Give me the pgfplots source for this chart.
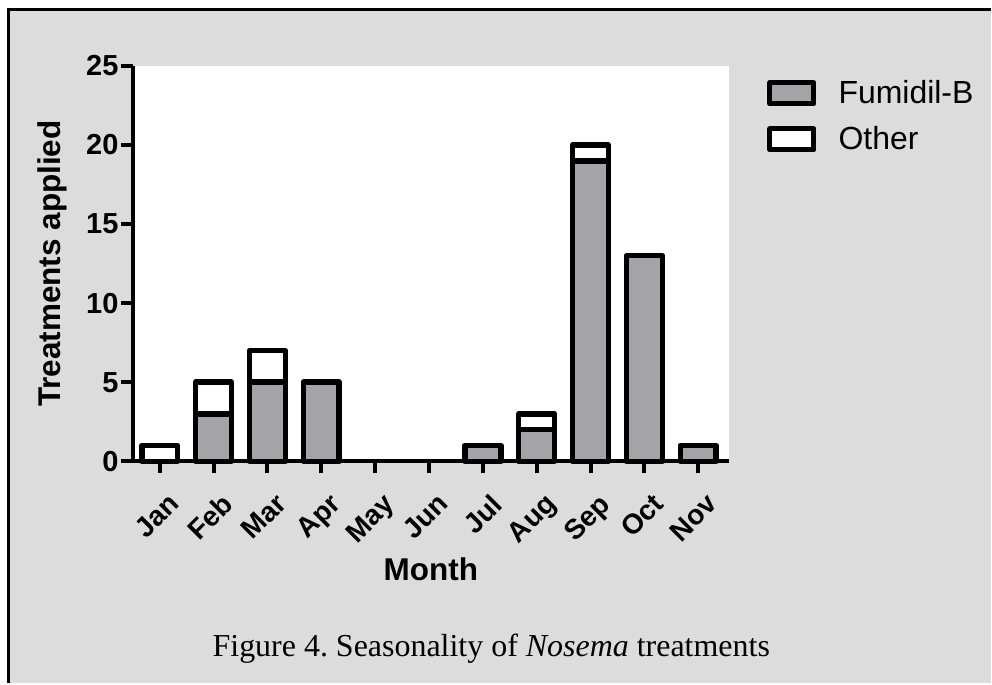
\documentclass[border=0pt]{standalone}
\usepackage{fontspec}
\setmainfont{Liberation Sans}
\newfontfamily\seriffont{Liberation Serif}
\usepackage{pgfplots}
\pgfplotsset{compat=1.18}
\definecolor{bg}{RGB}{220,220,220}
\definecolor{barg}{RGB}{163,163,168}
\newcommand\tl[1]{{\bfseries\fontsize{14}{17}\selectfont #1}}
\begin{document}
\begin{tikzpicture}
\fill[white] (0pt,0pt) rectangle (496pt,342pt);
\fill[bg] (4.25pt,0pt) rectangle (496pt,337.25pt);
\draw[line width=1.5pt] (4.25pt,0pt) -- (4.25pt,337.25pt) -- (496pt,337.25pt);
\begin{axis}[
  at={(66.5pt,111pt)}, anchor=south west,
  scale only axis, width=298.5pt, height=198pt,
  xmin=-0.5, xmax=10.57, ymin=0, ymax=25,
  xtick={0,...,10},
  xticklabels={\tl{Jan},\tl{Feb},\tl{Mar},\tl{Apr},\tl{May},\tl{Jun},\tl{Jul},\tl{Aug},\tl{Sep},\tl{Oct},\tl{Nov}},
  ytick={0,5,10,15,20,25},
  axis x line*=bottom, axis y line*=left,
  axis line style={line width=2pt,-},
  tick align=outside, major tick length=6pt,
  tick style={line width=2pt, black},
  /pgf/number format/assume math mode=true,
  yticklabel style={font=\bfseries\fontsize{14.5}{17}\selectfont, inner sep=1pt},
  xticklabel style={rotate=45, anchor=north east, inner sep=0pt, yshift=-9pt, xshift=-4pt},
  xlabel={Month}, ylabel={Treatments applied},
  xlabel style={font=\bfseries\fontsize{15.75}{19}\selectfont, at={(axis description cs:0.5,-0.2727)}, anchor=center},
  ylabel style={font=\bfseries\fontsize{15.75}{19}\selectfont, at={(axis description cs:-0.1345,0.5)}, anchor=center, rotate=0},
  axis background/.style={fill=white},
  ybar stacked, bar width=0.667,
  clip=false,
  legend style={at={(axis description cs:1.0637,0.975)}, anchor=north west, draw=none, fill=none,
    font=\fontsize{16}{19}\selectfont, inner sep=0pt, row sep=6pt},
  legend cell align=left,
  legend image code/.code={\draw[#1, line width=2.6pt] (0pt,-5.25pt) rectangle (22pt,5.25pt); \path (31pt,0pt);},
]
\addplot[draw=black, fill=barg, line width=2.75pt, line join=round] coordinates
  {(0,0) (1,3) (2,5) (3,5) (4,0) (5,0) (6,1) (7,2) (8,19) (9,13) (10,1)};
\addplot[draw=black, fill=white, line width=2.75pt, line join=round] coordinates
  {(0,1) (1,2) (2,2) (3,0) (4,0) (5,0) (6,0) (7,1) (8,1) (9,0) (10,0)};
\legend{Fumidil-B, Other}
\end{axis}
\node[font=\seriffont\fontsize{16}{19}\selectfont, anchor=base] at (246pt,13.5pt)
  {\frenchspacing Figure 4. Seasonality of \textit{Nosema} treatments};
\end{tikzpicture}
\end{document}
